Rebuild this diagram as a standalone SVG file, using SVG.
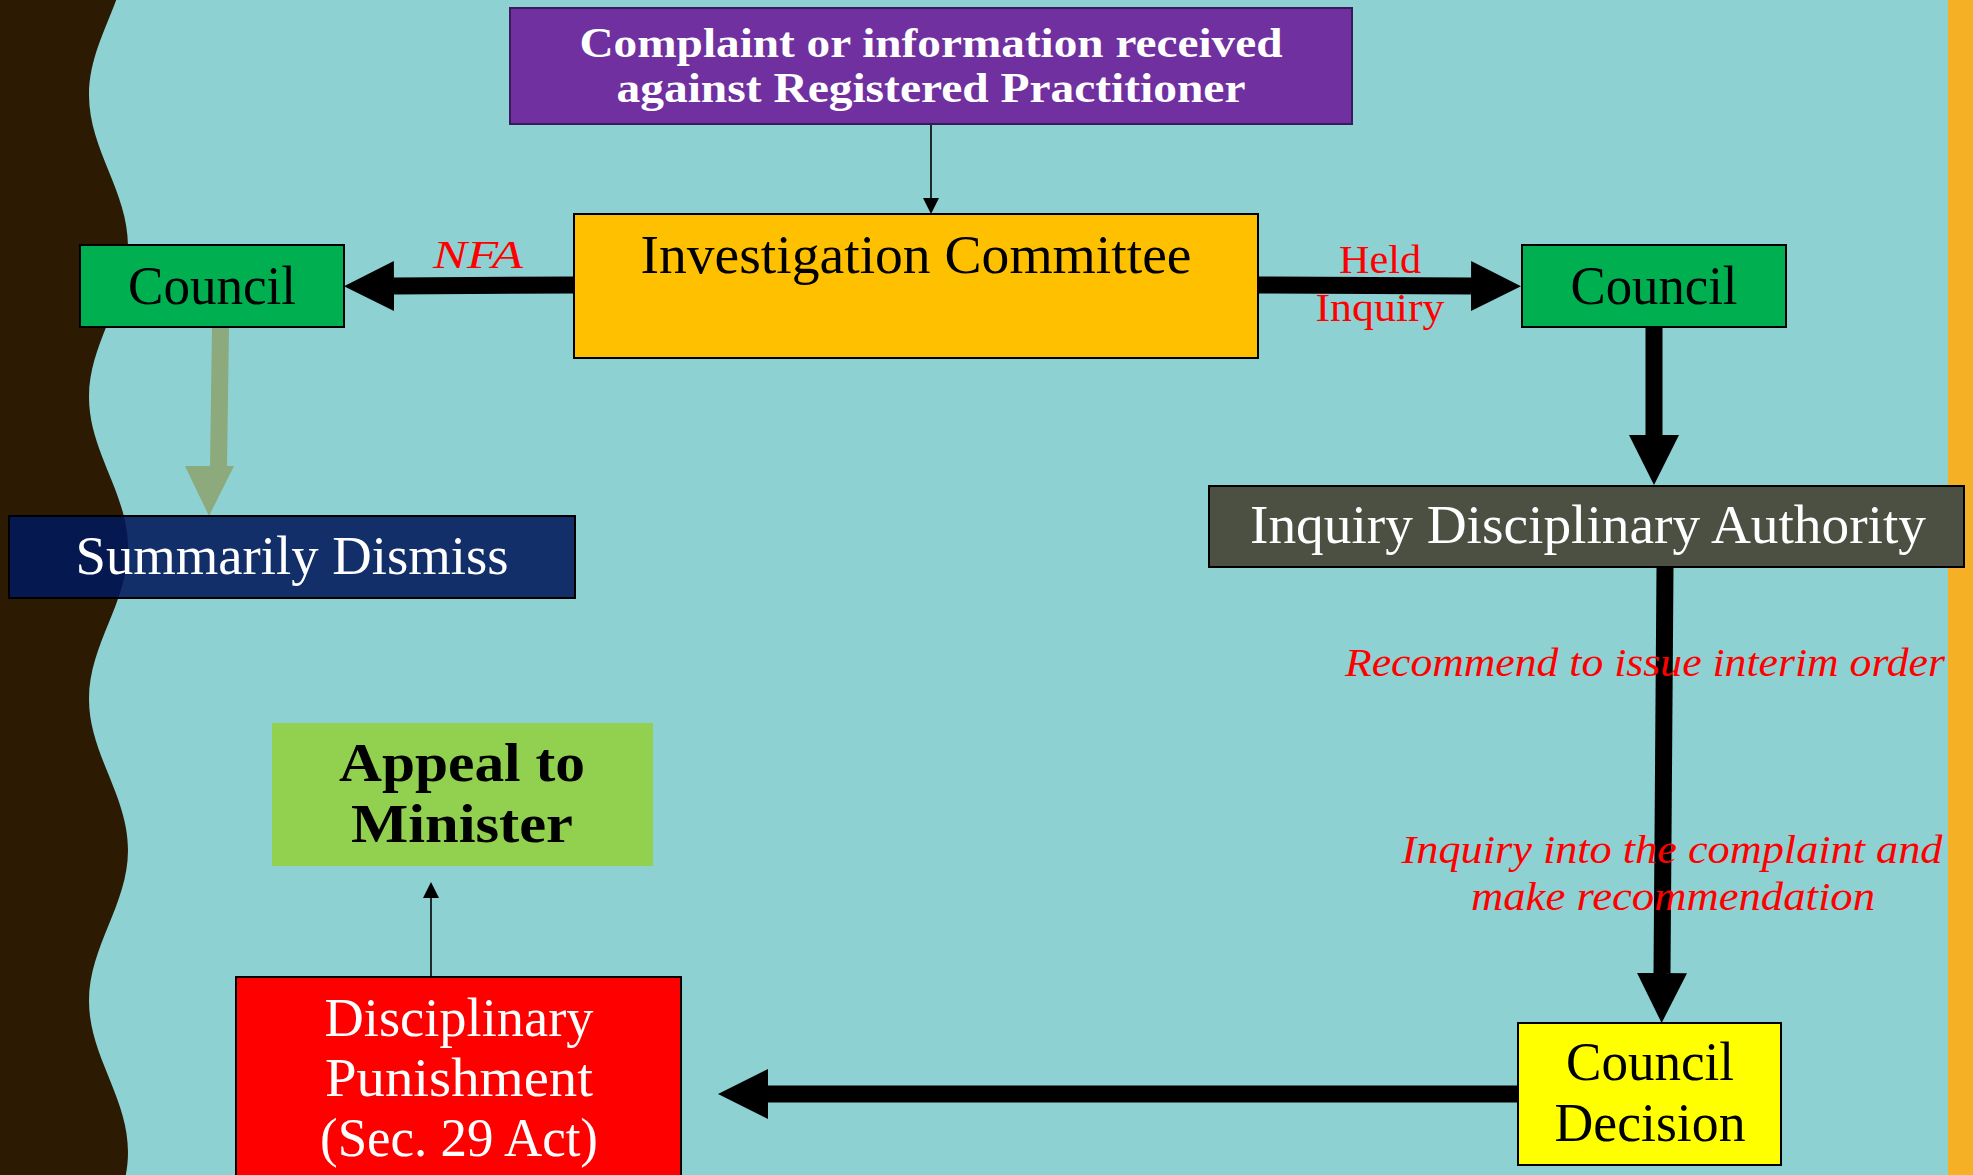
<svg xmlns="http://www.w3.org/2000/svg" width="1973" height="1175" viewBox="0 0 1973 1175">
<defs>
<style>
.box{stroke:#000;stroke-width:2}
.t{font-family:"Liberation Serif","Times New Roman",serif;text-anchor:middle}
.big{font-size:55px}
.w{fill:#fff}
.k{fill:#000}
.lbl{fill:#ff0000;font-size:41px}
.it{font-style:italic}
.thick{stroke:#000;stroke-width:17;fill:none}
.thin{stroke:#000;stroke-width:1.6;fill:none}
</style>
<marker id="bigHead" viewBox="0 0 50 50" markerWidth="50" markerHeight="50" markerUnits="userSpaceOnUse" refX="0" refY="25" orient="auto">
<path d="M0,0 L50,25 L0,50 Z" fill="#000"/>
</marker>
<marker id="smallHead" viewBox="0 0 16 16" markerWidth="16" markerHeight="16" markerUnits="userSpaceOnUse" refX="0" refY="8" orient="auto">
<path d="M0,0 L16,8 L0,16 Z" fill="#000"/>
</marker>
</defs>

<rect x="0" y="0" width="1973" height="1175" fill="#8DD1D3"/>
<path d="M0,-60 L128,-56 C128,-1 89,40 89,95 C89,150 128,191 128,246 C128,301 89,342 89,397 C89,452 128,493 128,548 C128,603 89,644 89,699 C89,754 128,795 128,850 C128,905 89,946 89,1001 C89,1056 128,1097 128,1152 C128,1207 89,1248 89,1303 L0,1303 Z" fill="#2C1B02"/>
<rect x="1948" y="0" width="25" height="1175" fill="#F6B025"/>

<g id="connectors">
<line class="thin" x1="931" y1="124" x2="931" y2="198" marker-end="url(#smallHead)"/>
<line class="thick" x1="574" y1="285" x2="394" y2="286" marker-end="url(#bigHead)"/>
<line class="thick" x1="1258" y1="285" x2="1471" y2="286" marker-end="url(#bigHead)"/>
<line class="thick" x1="1654" y1="327" x2="1654" y2="435" marker-end="url(#bigHead)"/>
<line class="thick" x1="1665" y1="567" x2="1662" y2="973" marker-end="url(#bigHead)"/>
<line class="thick" x1="1517" y1="1094" x2="768" y2="1094" marker-end="url(#bigHead)"/>
<line class="thin" x1="431" y1="977" x2="431" y2="898" marker-end="url(#smallHead)"/>
<polygon points="212,327 229,327 227,466 234,466 209,516 185,466 210,466" fill="#8DAA7C"/>
</g>

<g id="node-complaint">
<rect x="510" y="8" width="842" height="116" fill="#7030A0" stroke="#3C1A5A" stroke-width="2"/>
<text class="t w" x="931" y="57" font-size="42" font-weight="bold" textLength="703" lengthAdjust="spacingAndGlyphs">Complaint or information received</text>
<text class="t w" x="931" y="102" font-size="42" font-weight="bold" textLength="629" lengthAdjust="spacingAndGlyphs">against Registered Practitioner</text>
</g>

<g id="node-investigation">
<rect class="box" x="574" y="214" width="684" height="144" fill="#FFC000"/>
<text class="t big k" x="916" y="273" textLength="551" lengthAdjust="spacingAndGlyphs">Investigation Committee</text>
</g>

<g id="node-council-left">
<rect class="box" x="80" y="245" width="264" height="82" fill="#00B050"/>
<text class="t big k" x="212" y="304" textLength="168" lengthAdjust="spacingAndGlyphs">Council</text>
</g>

<g id="node-council-right">
<rect class="box" x="1522" y="245" width="264" height="82" fill="#00B050"/>
<text class="t big k" x="1654" y="304" textLength="167" lengthAdjust="spacingAndGlyphs">Council</text>
</g>

<g id="node-inquiry">
<rect class="box" x="1209" y="486" width="755" height="81" fill="#4B5043"/>
<text class="t big w" x="1588" y="543" textLength="676" lengthAdjust="spacingAndGlyphs">Inquiry Disciplinary Authority</text>
</g>

<g id="node-summarily">
<rect x="9" y="516" width="566" height="82" fill="#00185A" fill-opacity="0.875" stroke="#000" stroke-width="2"/>
<text class="t big w" x="292" y="574" textLength="433" lengthAdjust="spacingAndGlyphs">Summarily Dismiss</text>
</g>

<g id="node-appeal">
<rect x="272" y="723" width="381" height="143" fill="#92D050"/>
<text class="t big k" x="462" y="781" font-weight="bold" textLength="246" lengthAdjust="spacingAndGlyphs">Appeal to</text>
<text class="t big k" x="462" y="842" font-weight="bold" textLength="222" lengthAdjust="spacingAndGlyphs">Minister</text>
</g>

<g id="node-punishment">
<rect class="box" x="236" y="977" width="445" height="220" fill="#FF0000"/>
<text class="t big w" x="459" y="1036" textLength="269" lengthAdjust="spacingAndGlyphs">Disciplinary</text>
<text class="t big w" x="459" y="1096" textLength="268" lengthAdjust="spacingAndGlyphs">Punishment</text>
<text class="t big w" x="459" y="1156" textLength="278" lengthAdjust="spacingAndGlyphs">(Sec. 29 Act)</text>
</g>

<g id="node-decision">
<rect class="box" x="1518" y="1023" width="263" height="142" fill="#FFFF00"/>
<text class="t big k" x="1650" y="1080" textLength="168" lengthAdjust="spacingAndGlyphs">Council</text>
<text class="t big k" x="1650" y="1141" textLength="191" lengthAdjust="spacingAndGlyphs">Decision</text>
</g>

<g id="labels">
<text class="t lbl it" x="478" y="268" font-size="44" textLength="90" lengthAdjust="spacingAndGlyphs">NFA</text>
<text class="t lbl" x="1380" y="273" textLength="82" lengthAdjust="spacingAndGlyphs">Held</text>
<text class="t lbl" x="1380" y="321" textLength="129" lengthAdjust="spacingAndGlyphs">Inquiry</text>
<text class="t lbl it" x="1645" y="676" textLength="600" lengthAdjust="spacingAndGlyphs">Recommend to issue interim order</text>
<text class="t lbl it" x="1672" y="863" textLength="541" lengthAdjust="spacingAndGlyphs">Inquiry into the complaint and</text>
<text class="t lbl it" x="1673" y="910" textLength="404" lengthAdjust="spacingAndGlyphs">make recommendation</text>
</g>
</svg>
